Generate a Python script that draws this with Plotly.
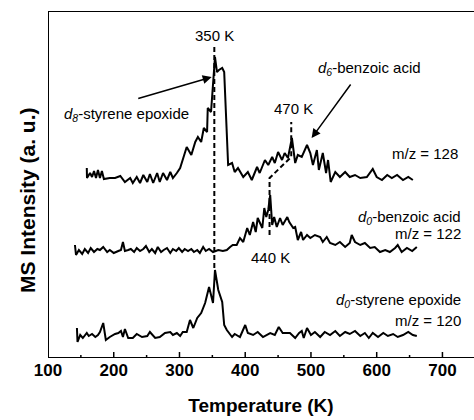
import plotly.graph_objects as go

# ---------------- data ----------------
temp_128 = [159, 159.3, 164, 167, 170, 173, 176, 179, 182, 185, 194, 202, 210, 217, 225, 229, 235, 240, 245, 251,
            255, 260, 266, 270, 275, 281, 286, 290, 296, 301, 311, 318, 324, 328, 333, 337, 342, 343, 348, 349,
            351, 354, 357, 360, 365, 368, 374, 380, 384, 389, 397, 404, 410, 418, 422, 430, 435, 441, 445, 450,
            456, 460, 465, 471, 476, 480, 486, 494, 499, 503, 509, 512, 518, 523, 526, 530, 537, 544, 552, 559,
            567, 575, 585, 594, 600, 608, 616, 623, 631, 640, 648, 655]
int_128 = [190, 180, 185, 181, 187, 180, 188, 180, 187, 179, 180, 180, 182, 176, 180, 175, 181, 175, 183, 176,
           184, 175, 185, 176, 185, 178, 186, 180, 185, 190, 211, 203, 216, 221, 216, 230, 226, 250, 246, 255,
           275, 301, 286, 288, 290, 286, 193, 195, 186, 190, 181, 186, 178, 191, 185, 198, 193, 201, 195, 206,
           198, 205, 200, 220, 195, 203, 201, 213, 205, 193, 208, 188, 205, 185, 198, 176, 186, 181, 186, 181,
           183, 180, 181, 189, 181, 178, 183, 180, 183, 178, 181, 178]

temp_122 = [141, 142.6, 147, 152, 156, 161, 165, 170, 175, 179, 184, 190, 194, 200, 207, 211, 214, 217, 222, 226,
            231, 235, 240, 245, 249, 254, 258, 263, 267, 272, 276, 281, 286, 290, 295, 299, 304, 308, 313, 318,
            322, 327, 331, 336, 340, 345, 351, 359, 366, 372, 377, 381, 387, 392, 397, 403, 407, 412, 416, 419,
            426, 429, 432, 435, 438, 441, 444, 448, 453, 457, 464, 467, 473, 476, 480, 485, 488, 494, 499, 506,
            514, 518, 524, 529, 537, 544, 552, 559, 562, 567, 575, 582, 590, 597, 605, 613, 620, 628, 632, 638,
            646, 654, 661]
int_122 = [113, 103, 108, 104, 109, 105, 110, 106, 109, 108, 111, 106, 108, 105, 107, 108, 116, 107, 108, 109,
           106, 110, 107, 109, 112, 106, 109, 105, 111, 106, 108, 110, 105, 109, 107, 110, 106, 109, 107, 109,
           106, 108, 105, 111, 107, 109, 106, 108, 107, 108, 111, 113, 113, 120, 116, 130, 123, 136, 126, 140,
           130, 150, 141, 148, 163, 133, 141, 131, 140, 133, 141, 136, 130, 131, 118, 126, 118, 123, 120, 123,
           121, 116, 121, 115, 113, 116, 111, 115, 123, 116, 113, 115, 110, 111, 106, 108, 106, 110, 113, 106,
           110, 107, 111]

temp_120 = [144, 144.9, 149, 153, 159, 162, 167, 172, 176, 179, 184, 188, 194, 202, 207, 211, 214, 217, 222, 229,
            235, 243, 251, 255, 263, 270, 278, 286, 290, 296, 301, 305, 311, 316, 321, 327, 333, 339, 345, 351,
            354, 359, 365, 368, 372, 380, 384, 392, 400, 404, 412, 419, 427, 438, 445, 451, 457, 468, 476, 482,
            486, 489, 494, 500, 506, 514, 521, 529, 537, 544, 552, 559, 567, 575, 582, 588, 594, 602, 610, 617,
            625, 632, 640, 648, 655, 661]
int_120 = [30, 16, 23, 20, 25, 22, 24, 21, 23, 26, 35, 18, 21, 24, 25, 27, 21, 29, 20, 20,
           24, 21, 22, 26, 20, 21, 25, 26, 23, 25, 22, 26, 26, 38, 30, 40, 45, 55, 71, 55,
           88, 68, 56, 33, 28, 21, 24, 21, 33, 25, 23, 26, 21, 25, 23, 31, 25, 25, 20, 25,
           27, 20, 30, 23, 26, 21, 26, 23, 27, 22, 26, 24, 27, 22, 25, 20, 25, 21, 25, 22,
           24, 21, 23, 26, 23, 22]

x_ticks = [100, 200, 300, 400, 500, 600, 700]
x_minor = [150, 250, 350, 450, 550, 650]
peak_350 = 353          # dashed marker drawn for the 350 K peak
peak_470 = 470
peak_440 = 437

X_RANGE = [100, 748]
Y_RANGE = [0, 347]
FONT = "Arial, Liberation Sans, sans-serif"
BLACK = "#000000"

fig = go.Figure()
for t, v in [(temp_128, int_128), (temp_122, int_122), (temp_120, int_120)]:
    fig.add_trace(go.Scatter(x=t, y=v, mode="lines",
                             line=dict(color=BLACK, width=2), showlegend=False, hoverinfo="skip"))

dash_style = dict(color=BLACK, width=2, dash="5px,3px")
fig.add_trace(go.Scatter(x=[peak_350, peak_350], y=[311, 88], mode="lines",
                         line=dash_style, showlegend=False, hoverinfo="skip"))
fig.add_trace(go.Scatter(x=[peak_440, peak_440, peak_470, peak_470], y=[123, 180, 201, 236], mode="lines",
                         line=dash_style, showlegend=False, hoverinfo="skip"))

# frame: left, bottom and top lines (no right line, as in the reference)
fx = [X_RANGE[1], X_RANGE[0], X_RANGE[0], X_RANGE[1]]
fy = [Y_RANGE[1], Y_RANGE[1], Y_RANGE[0], Y_RANGE[0]]
fig.add_trace(go.Scatter(x=fx, y=fy, mode="lines", line=dict(color=BLACK, width=2),
                         cliponaxis=False, showlegend=False, hoverinfo="skip"))
# inside ticks on the bottom axis
tx, ty = [], []
for v in x_ticks[1:]:
    tx += [v, v, None]
    ty += [0, 6, None]
for v in x_minor:
    tx += [v, v, None]
    ty += [0, 3, None]
fig.add_trace(go.Scatter(x=tx, y=ty, mode="lines", line=dict(color=BLACK, width=1.5),
                         cliponaxis=False, showlegend=False, hoverinfo="skip"))

ann_font = dict(family=FONT, size=15, color=BLACK)
annotations = [
    dict(x=peak_350, y=323, text="350 K", showarrow=False, xanchor="center", yanchor="middle", font=ann_font),
    dict(x=peak_470 + 3, y=250, text="470 K", showarrow=False, xanchor="center", yanchor="middle", font=ann_font),
    dict(x=peak_440 + 1, y=101, text="440 K", showarrow=False, xanchor="center", yanchor="middle", font=ann_font),
    dict(x=121, y=244, text="<i>d</i><sub><i>8</i></sub>-styrene epoxide", showarrow=False,
         xanchor="left", yanchor="middle", font=ann_font),
    dict(x=589, y=290, text="<i>d</i><sub><i>6</i></sub>-benzoic acid", showarrow=False,
         xanchor="center", yanchor="middle", font=ann_font),
    dict(x=727, y=205, text="m/z = 128", showarrow=False, xanchor="right", yanchor="middle", font=ann_font),
    dict(x=731, y=141, text="<i>d</i><sub><i>0</i></sub>-benzoic acid", showarrow=False,
         xanchor="right", yanchor="middle", font=ann_font),
    dict(x=731, y=125, text="m/z = 122", showarrow=False, xanchor="right", yanchor="middle", font=ann_font),
    dict(x=731, y=58, text="<i>d</i><sub><i>0</i></sub>-styrene epoxide", showarrow=False,
         xanchor="right", yanchor="middle", font=ann_font),
    dict(x=731, y=38, text="m/z = 120", showarrow=False, xanchor="right", yanchor="middle", font=ann_font),
    # arrows
    dict(x=349, y=281, ax=235, ay=259, axref="x", ayref="y", text="", showarrow=True,
         arrowhead=2, arrowsize=1.2, arrowwidth=1.5, arrowcolor=BLACK),
    dict(x=501, y=220, ax=562, ay=275, axref="x", ayref="y", text="", showarrow=True,
         arrowhead=2, arrowsize=1.2, arrowwidth=1.5, arrowcolor=BLACK),
    # y-axis title
    dict(xref="paper", yref="paper", x=-21 / 426, y=(358 - 200) / 347, text="<b>MS Intensity (a. u.)</b>",
         textangle=-90, showarrow=False, xanchor="center", yanchor="middle",
         font=dict(family=FONT, size=21, color=BLACK)),
]

fig.update_layout(
    width=474, height=420,
    margin=dict(l=48, r=0, t=11, b=62, autoexpand=False),
    paper_bgcolor="white", plot_bgcolor="white",
    annotations=annotations,
    xaxis=dict(
        range=X_RANGE, tickmode="array", tickvals=x_ticks, ticktext=[str(v) for v in x_ticks],
        ticks="", showline=False, showgrid=False, zeroline=False, automargin=False,
        tickfont=dict(family=FONT, size=17, color=BLACK, weight="bold"),
        title=dict(text="Temperature (K)", font=dict(family=FONT, size=19, color=BLACK, weight="bold"),
                   standoff=19),
    ),
    yaxis=dict(
        range=Y_RANGE, showticklabels=False, ticks="", showgrid=False, zeroline=False,
        showline=False, automargin=False, title=dict(text=""),
    ),
)

fig.write_html("out.html", post_script="document.body.style.margin='0';",
               config={"displayModeBar": False})
